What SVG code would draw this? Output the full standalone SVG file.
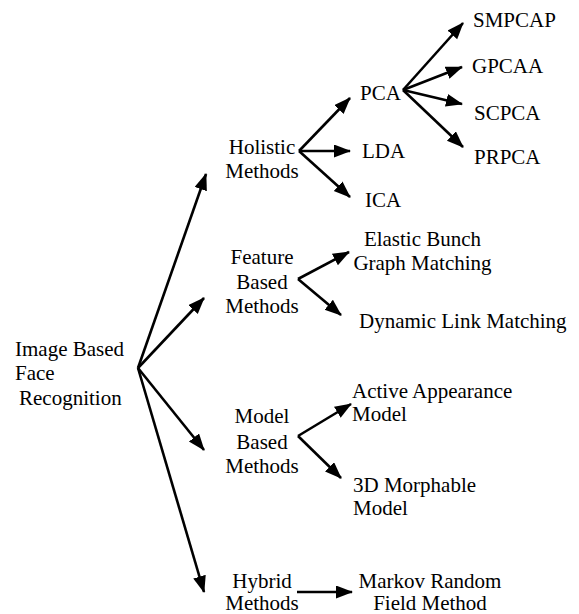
<svg xmlns="http://www.w3.org/2000/svg" width="579" height="614" viewBox="0 0 579 614">
<style>
text{font-family:'Liberation Serif','Times New Roman',serif;font-size:21px;fill:#000}
.c{text-anchor:middle}
.e line{stroke:#000;stroke-width:2.6;marker-end:url(#ah)}
</style>
<defs>
<marker id="ah" markerUnits="userSpaceOnUse" markerWidth="17" markerHeight="14" refX="16" refY="6.5" orient="auto">
<path d="M0,0 L17,6.5 L0,13 Z" fill="#000"/>
</marker>
</defs>
<rect width="579" height="614" fill="#fff"/>
<g id="connectors" class="e">
<line x1="138" y1="368" x2="206" y2="174"/>
<line x1="138" y1="368" x2="204" y2="298"/>
<line x1="138" y1="368" x2="204" y2="450"/>
<line x1="138" y1="368" x2="204" y2="592"/>
<line x1="299" y1="151" x2="350" y2="98"/>
<line x1="299" y1="151" x2="350" y2="151"/>
<line x1="299" y1="151" x2="350" y2="197"/>
<line x1="403" y1="90" x2="463" y2="23"/>
<line x1="403" y1="90" x2="462" y2="67"/>
<line x1="403" y1="90" x2="462" y2="104"/>
<line x1="403" y1="90" x2="463" y2="147"/>
<line x1="298" y1="279" x2="349" y2="252"/>
<line x1="298" y1="279" x2="341" y2="315"/>
<line x1="298" y1="436" x2="351" y2="404"/>
<line x1="298" y1="436" x2="341" y2="478"/>
<line x1="297" y1="592" x2="352" y2="592"/>
</g>
<g id="root"><text x="15" y="356">Image Based</text><text x="15" y="380">Face</text><text x="19" y="405">Recognition</text></g>
<g id="holistic"><text class="c" x="262" y="154">Holistic</text><text class="c" x="262" y="178">Methods</text></g>
<g id="feature"><text class="c" x="262" y="264">Feature</text><text class="c" x="262" y="289">Based</text><text class="c" x="262" y="313">Methods</text></g>
<g id="model"><text class="c" x="262" y="423">Model</text><text class="c" x="262" y="449">Based</text><text class="c" x="262" y="473">Methods</text></g>
<g id="hybrid"><text class="c" x="262" y="588">Hybrid</text><text class="c" x="262" y="610">Methods</text></g>
<g id="pca"><text x="360" y="100">PCA</text></g>
<g id="lda"><text x="362" y="158">LDA</text></g>
<g id="ica"><text x="365" y="207">ICA</text></g>
<g id="smpcap"><text x="473" y="27">SMPCAP</text></g>
<g id="gpcaa"><text x="472" y="73">GPCAA</text></g>
<g id="scpca"><text x="474" y="120">SCPCA</text></g>
<g id="prpca"><text x="474" y="164">PRPCA</text></g>
<g id="ebgm"><text class="c" x="422.5" y="246">Elastic Bunch</text><text class="c" x="422.5" y="270">Graph Matching</text></g>
<g id="dlm"><text x="359" y="328">Dynamic Link Matching</text></g>
<g id="aam"><text x="352" y="398">Active Appearance</text><text x="352" y="421">Model</text></g>
<g id="mm3d"><text x="353" y="492">3D Morphable</text><text x="353" y="515">Model</text></g>
<g id="mrf"><text class="c" x="430" y="588">Markov Random</text><text class="c" x="430" y="610">Field Method</text></g>
</svg>
